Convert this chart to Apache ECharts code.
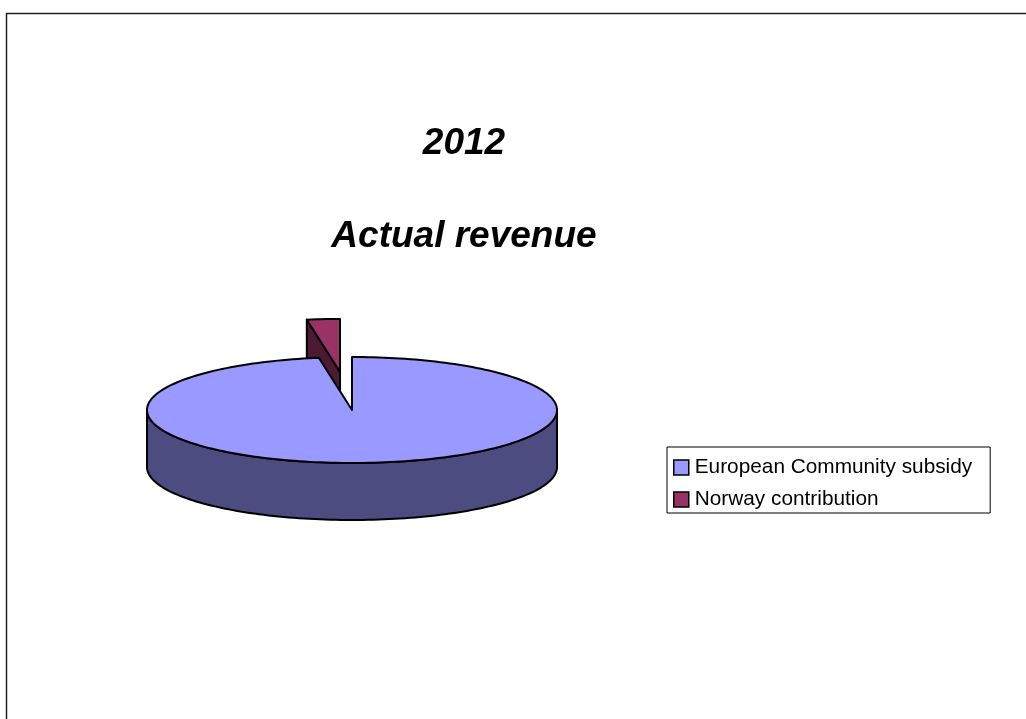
<!DOCTYPE html>
<html>
<head>
<meta charset="utf-8">
<title>2012 Actual revenue</title>
<script src="https://cdn.jsdelivr.net/npm/echarts@6/dist/echarts.min.js"></script>
<style>
  html, body { margin: 0; padding: 0; background: #fff; }
  #chart { width: 1026px; height: 719px; }
</style>
</head>
<body>
<div id="chart"></div>
<script>
// Revenue sources, 2012 (million EUR)
const categories = ['European Community subsidy', 'Norway contribution'];
const revenue = [15.05, 0.40];
const titleLines = ['2012', 'Actual revenue'];

// Slice angles, clockwise from 12 o'clock, derived from the values
const total = revenue.reduce((a, b) => a + b, 0);
const sliceAngles = [];
let acc = 0;
revenue.forEach(v => {
  const start = acc / total * 360;
  acc += v;
  sliceAngles.push([start, acc / total * 360]);
});

// Pie geometry (tilted disc)
const PIE = { cx: 352, cy: 410, rx: 205, ry: 53, depth: 57 };
const EXPLODE = [0, 0.72];
const TOP_COLORS = ['#9999ff', '#993366'];
const SIDE_COLORS = ['#4c4c80', '#4d1a33'];
const FONT = '"Liberation Sans", Arial, sans-serif';

const rad = d => d * Math.PI / 180;

function rimPoint(cx, cy, a, dz) {
  return [cx + PIE.rx * Math.sin(rad(a)), cy - PIE.ry * Math.cos(rad(a)) + (dz || 0)];
}

function arcPoints(cx, cy, a0, a1, dz) {
  const pts = [];
  const n = Math.max(2, Math.ceil(Math.abs(a1 - a0) / 1.5));
  for (let i = 0; i <= n; i++) {
    pts.push(rimPoint(cx, cy, a0 + (a1 - a0) * i / n, dz));
  }
  return pts;
}

function makeRenderItem(idx) {
  return function (params, api) {
    const value = api.value(0);
    const a0 = sliceAngles[idx][0];
    const a1 = a0 + value / total * 360;
    const mid = (a0 + a1) / 2;
    const k = EXPLODE[idx];
    const cx = PIE.cx + PIE.rx * k * Math.sin(rad(mid));
    const cy = PIE.cy - PIE.ry * k * Math.cos(rad(mid));
    const d = PIE.depth;
    const stroke = { stroke: '#000', lineWidth: 2, lineJoin: 'round' };
    const children = [];

    // Cut faces at the slice edges, when turned toward the viewer
    const radialFace = a => ({
      type: 'polygon',
      shape: { points: [[cx, cy], rimPoint(cx, cy, a), rimPoint(cx, cy, a, d), [cx, cy + d]] },
      style: Object.assign({ fill: SIDE_COLORS[idx] }, stroke)
    });
    if (Math.sin(rad(a0)) < -1e-6) children.push(radialFace(a0));
    if (Math.sin(rad(a1)) > 1e-6) children.push(radialFace(a1));

    // Front part of the outer wall
    const s = Math.max(a0, 90), e = Math.min(a1, 270);
    if (e > s) {
      const topArc = arcPoints(cx, cy, s, e, 0);
      const botArc = arcPoints(cx, cy, e, s, d);
      children.push({
        type: 'polygon',
        shape: { points: topArc.concat(botArc) },
        style: Object.assign({ fill: SIDE_COLORS[idx] }, stroke)
      });
    }

    // Top face
    children.push({
      type: 'polygon',
      shape: { points: [[cx, cy]].concat(arcPoints(cx, cy, a0, a1, 0)) },
      style: Object.assign({ fill: TOP_COLORS[idx] }, stroke)
    });

    return { type: 'group', children: children };
  };
}

const chart = echarts.init(document.getElementById('chart'), null, { renderer: 'canvas' });

const titleStyle = {
  fontFamily: FONT, fontSize: 37, fontWeight: 'bold', fontStyle: 'italic', color: '#000'
};

chart.setOption({
  backgroundColor: '#fff',
  animation: false,
  title: [
    { text: titleLines[0], left: 459, top: 120, textAlign: 'center', textStyle: titleStyle },
    { text: titleLines[1], left: 459, top: 213, textAlign: 'center', textStyle: titleStyle }
  ],
  legend: {
    orient: 'vertical',
    left: 667,
    top: 447,
    data: categories,
    icon: 'rect',
    itemWidth: 15,
    itemHeight: 15,
    itemGap: 11,
    padding: [10, 18, 3, 6],
    borderColor: '#000',
    borderWidth: 1,
    selectedMode: false,
    itemStyle: { borderColor: '#000', borderWidth: 1.5 },
    textStyle: { fontFamily: FONT, fontSize: 20.8, color: '#000', padding: [0, 0, 0, 1], lineHeight: 21 }
  },
  graphic: [{
    type: 'rect',
    silent: true,
    z: -10,
    shape: { x: 6.5, y: 13.5, width: 1100, height: 800 },
    style: { fill: 'none', stroke: '#222', lineWidth: 1.5 }
  }],
  series: categories.map((name, i) => ({
    type: 'custom',
    name: name,
    coordinateSystem: 'none',
    z: i === 0 ? 3 : 2,
    itemStyle: { color: TOP_COLORS[i] },
    renderItem: makeRenderItem(i),
    data: [revenue[i]]
  }))
});
</script>
</body>
</html>
